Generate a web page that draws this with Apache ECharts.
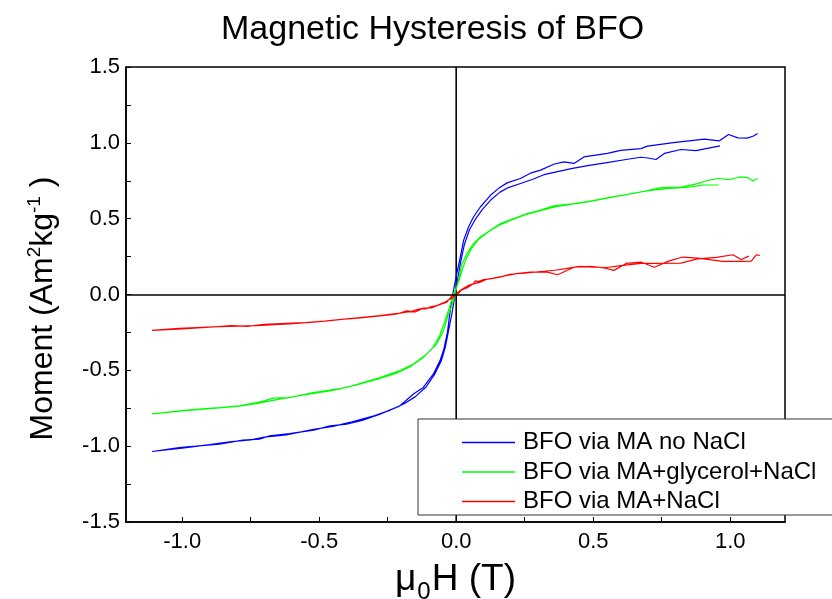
<!DOCTYPE html>
<html>
<head>
<meta charset="utf-8">
<script src="https://cdn.jsdelivr.net/npm/echarts@6/dist/echarts.min.js"></script>
<style>
  html, body { margin: 0; padding: 0; background: #fff; }
  #chart { width: 832px; height: 599px; }
</style>
</head>
<body>
<div id="chart"></div>
<script>
// Field sweeps [mu0H (T), moment (Am^2/kg)]; each loop is swept high -> low, then back up.
const noNaClDown = [[1.10,1.062],[1.085,1.045],[1.062,1.031],[1.028,1.033],[0.994,1.055],[0.961,1.013],[0.906,1.024],[0.80,1.003],[0.698,0.978],[0.674,0.962],[0.60,0.95],[0.552,0.93],[0.466,0.907],[0.43,0.864],[0.393,0.874],[0.356,0.859],[0.308,0.82],[0.271,0.80],[0.234,0.765],[0.186,0.736],[0.155,0.70],[0.125,0.654],[0.088,0.577],[0.063,0.511],[0.045,0.445],[0.027,0.357],[0.015,0.247],[0.002,0.137],[-0.01,0.026],[-0.02,-0.08],[-0.032,-0.25],[-0.045,-0.36],[-0.059,-0.436],[-0.083,-0.524],[-0.12,-0.613],[-0.156,-0.656],[-0.205,-0.734],[-0.278,-0.789],[-0.34,-0.828],[-0.40,-0.855],[-0.46,-0.866],[-0.52,-0.894],[-0.608,-0.917],[-0.681,-0.932],[-0.718,-0.954],[-0.779,-0.96],[-0.864,-0.987],[-0.95,-1.0],[-1.011,-1.009],[-1.11,-1.035]];
const noNaClUp = [[-1.11,-1.035],[-1.0,-1.013],[-0.9,-0.99],[-0.82,-0.97],[-0.75,-0.958],[-0.70,-0.94],[-0.62,-0.925],[-0.52,-0.889],[-0.45,-0.87],[-0.38,-0.84],[-0.30,-0.80],[-0.24,-0.762],[-0.19,-0.72],[-0.15,-0.675],[-0.11,-0.61],[-0.08,-0.53],[-0.055,-0.44],[-0.04,-0.35],[-0.028,-0.24],[-0.015,-0.12],[-0.005,-0.01],[0.005,0.1],[0.017,0.22],[0.03,0.33],[0.048,0.425],[0.068,0.49],[0.095,0.56],[0.13,0.63],[0.16,0.675],[0.19,0.705],[0.24,0.735],[0.28,0.76],[0.32,0.79],[0.37,0.81],[0.42,0.83],[0.48,0.85],[0.55,0.87],[0.62,0.89],[0.674,0.905],[0.70,0.90],[0.729,0.89],[0.76,0.93],[0.82,0.956],[0.875,0.949],[0.963,0.98]];

const glycerolDown = [[1.099,0.767],[1.083,0.749],[1.065,0.77],[1.034,0.775],[0.998,0.758],[0.955,0.765],[0.918,0.753],[0.881,0.731],[0.82,0.708],[0.747,0.705],[0.674,0.676],[0.576,0.645],[0.479,0.613],[0.43,0.60],[0.356,0.584],[0.308,0.556],[0.259,0.534],[0.21,0.50],[0.161,0.467],[0.125,0.423],[0.088,0.379],[0.063,0.335],[0.039,0.269],[0.021,0.203],[0.008,0.093],[-0.004,0.005],[-0.015,-0.07],[-0.028,-0.128],[-0.046,-0.238],[-0.071,-0.326],[-0.107,-0.392],[-0.156,-0.458],[-0.205,-0.502],[-0.278,-0.547],[-0.34,-0.58],[-0.40,-0.613],[-0.522,-0.646],[-0.608,-0.679],[-0.669,-0.683],[-0.706,-0.705],[-0.791,-0.734],[-0.864,-0.745],[-0.974,-0.76],[-1.11,-0.787]];
const glycerolUp = [[-1.11,-0.787],[-1.0,-0.768],[-0.9,-0.752],[-0.8,-0.738],[-0.72,-0.716],[-0.64,-0.688],[-0.55,-0.66],[-0.45,-0.632],[-0.36,-0.594],[-0.29,-0.56],[-0.22,-0.52],[-0.17,-0.478],[-0.12,-0.415],[-0.085,-0.35],[-0.06,-0.27],[-0.04,-0.17],[-0.022,-0.07],[-0.008,0.01],[0.006,0.07],[0.02,0.15],[0.035,0.23],[0.055,0.30],[0.08,0.36],[0.115,0.41],[0.155,0.455],[0.2,0.49],[0.25,0.525],[0.30,0.55],[0.36,0.578],[0.42,0.595],[0.48,0.61],[0.56,0.638],[0.64,0.665],[0.70,0.685],[0.78,0.70],[0.84,0.706],[0.906,0.722],[0.957,0.722]];

const naclDown = [[1.108,0.258],[1.095,0.262],[1.077,0.22],[1.04,0.218],[0.973,0.218],[0.881,0.24],[0.827,0.247],[0.775,0.22],[0.723,0.18],[0.674,0.214],[0.62,0.205],[0.576,0.159],[0.54,0.175],[0.49,0.185],[0.43,0.18],[0.37,0.13],[0.332,0.147],[0.271,0.147],[0.22,0.138],[0.186,0.126],[0.15,0.113],[0.125,0.104],[0.10,0.098],[0.08,0.085],[0.07,0.09],[0.063,0.071],[0.045,0.06],[0.038,0.066],[0.03,0.045],[0.015,0.026],[0.0,0.005],[-0.015,-0.01],[-0.025,-0.03],[-0.034,-0.051],[-0.05,-0.06],[-0.071,-0.073],[-0.09,-0.08],[-0.11,-0.095],[-0.132,-0.095],[-0.16,-0.11],[-0.205,-0.123],[-0.278,-0.139],[-0.34,-0.15],[-0.40,-0.161],[-0.462,-0.172],[-0.522,-0.183],[-0.608,-0.194],[-0.68,-0.20],[-0.73,-0.205],[-0.864,-0.212],[-1.011,-0.223],[-1.11,-0.236]];
const naclUp = [[-1.11,-0.236],[-1.0,-0.226],[-0.9,-0.216],[-0.82,-0.205],[-0.76,-0.21],[-0.70,-0.196],[-0.62,-0.19],[-0.55,-0.186],[-0.48,-0.175],[-0.42,-0.165],[-0.35,-0.155],[-0.27,-0.14],[-0.22,-0.13],[-0.18,-0.108],[-0.15,-0.115],[-0.12,-0.09],[-0.09,-0.088],[-0.06,-0.065],[-0.04,-0.05],[-0.02,-0.028],[0.0,-0.005],[0.02,0.03],[0.04,0.045],[0.06,0.068],[0.085,0.08],[0.11,0.1],[0.14,0.108],[0.17,0.12],[0.2,0.135],[0.25,0.14],[0.30,0.15],[0.36,0.16],[0.40,0.17],[0.45,0.185],[0.50,0.18],[0.55,0.178],[0.60,0.19],[0.674,0.205],[0.72,0.205],[0.82,0.207],[0.88,0.235],[0.95,0.245],[1.01,0.262],[1.04,0.231],[1.068,0.253]];

const seriesNames = ['BFO via MA no NaCl', 'BFO via MA+glycerol+NaCl', 'BFO via MA+NaCl'];
const seriesColors = ['#0000ff', '#00ff00', '#ff0000'];
const loops = [noNaClDown.concat(noNaClUp), glycerolDown.concat(glycerolUp), naclDown.concat(naclUp)];

const xLabelValues = [-1.0, -0.5, 0.0, 0.5, 1.0];
const xTickValues = [-1.0, -0.75, -0.5, -0.25, 0.0, 0.25, 0.5, 0.75, 1.0];
const yTickValues = [-1.5, -1.25, -1.0, -0.75, -0.5, -0.25, 0.0, 0.25, 0.5, 0.75, 1.0, 1.25, 1.5];

const FONT = "'Liberation Sans', Arial, sans-serif";
const Y_MIN = -1.5, Y_MAX = 1.5;
// Moment range hidden behind the legend box on the H = 0 line
const legendSpanM = [-0.822, -1.44];

const chart = echarts.init(document.getElementById('chart'), null, { renderer: 'canvas' });

const series = loops.map((d, i) => ({
  name: seriesNames[i],
  type: 'line',
  data: d,
  symbol: 'none',
  showSymbol: false,
  smooth: false,
  animation: false,
  lineStyle: { color: seriesColors[i], width: 1.2 },
  itemStyle: { color: seriesColors[i] },
  z: 3
}));

// Horizontal zero line (M = 0)
series[0].markLine = {
  silent: true,
  symbol: ['none', 'none'],
  animation: false,
  label: { show: false },
  lineStyle: { color: '#000', width: 1.6, type: 'solid' },
  data: [{ yAxis: 0 }]
};

// Vertical zero line (H = 0), interrupted behind the legend box
const zeroAxisStyle = {
  type: 'line',
  symbol: 'none',
  silent: true,
  animation: false,
  z: 2,
  lineStyle: { color: '#000', width: 1.6 },
  tooltip: { show: false }
};
series.push(Object.assign({ name: 'zero-upper', data: [[0, Y_MAX], [0, legendSpanM[0]]] }, zeroAxisStyle));
series.push(Object.assign({ name: 'zero-lower', data: [[0, legendSpanM[1]], [0, Y_MIN]] }, zeroAxisStyle));

chart.setOption({
  backgroundColor: '#fff',
  animation: false,
  title: {
    text: 'Magnetic Hysteresis of BFO',
    left: 216,
    top: 8,
    textStyle: { fontFamily: FONT, fontSize: 34, fontWeight: 'normal', color: '#000' }
  },
  legend: {
    orient: 'vertical',
    left: 418,
    top: 419,
    z: 20,
    itemWidth: 53,
    itemHeight: 1.5,
    itemGap: 5.5,
    padding: [11.5, 40, 1.5, 44],
    borderColor: '#333',
    borderWidth: 1,
    backgroundColor: '#fff',
    selectedMode: false,
    icon: 'rect',
    data: seriesNames.map((n, i) => ({
      name: n,
      itemStyle: { color: seriesColors[i] }
    })),
    textStyle: { fontFamily: FONT, fontSize: 24, color: '#000', padding: [0, 0, 0, 3] }
  },
  grid: {
    left: 126, right: 47, top: 67, bottom: 77,
    outerBoundsMode: 'none',
    containLabel: false,
    show: true, borderColor: '#000', borderWidth: 1.5, backgroundColor: 'transparent'
  },
  xAxis: {
    type: 'value',
    min: -1.205,
    max: 1.2,
    name: '{a|μ}{s|0}{a|H (T)}',
    nameLocation: 'middle',
    nameGap: 37,
    nameTextStyle: {
      rich: {
        a: { fontFamily: FONT, fontSize: 37, color: '#000', lineHeight: 42, verticalAlign: 'middle' },
        s: { fontFamily: FONT, fontSize: 24, color: '#000', lineHeight: 42, verticalAlign: 'bottom', padding: [0, 1, -3, 1] }
      }
    },
    axisLine: { show: true, onZero: false, lineStyle: { color: '#000', width: 1.6 } },
    axisTick: { show: true, inside: true, length: 5, customValues: xTickValues, lineStyle: { color: '#000', width: 1 } },
    axisLabel: {
      customValues: xLabelValues,
      margin: 9,
      fontFamily: FONT, fontSize: 22, color: '#000',
      formatter: v => v.toFixed(1)
    },
    splitLine: { show: false }
  },
  yAxis: {
    type: 'value',
    min: Y_MIN,
    max: Y_MAX,
    interval: 0.5,
    name: '{a|Moment (Am}{p|2}{a|kg}{p|-1}{a| )}',
    nameLocation: 'middle',
    nameRotate: 90,
    nameGap: 64,
    nameTextStyle: {
      padding: [0, 28, 0, 0],
      rich: {
        a: { fontFamily: FONT, fontSize: 32, color: '#000', lineHeight: 38, verticalAlign: 'middle' },
        p: { fontFamily: FONT, fontSize: 19, color: '#000', lineHeight: 38, verticalAlign: 'top', padding: [1, 0, 0, 0] }
      }
    },
    axisLine: { show: true, onZero: false, lineStyle: { color: '#000', width: 1.6 } },
    axisTick: { show: true, inside: true, length: 5, customValues: yTickValues, lineStyle: { color: '#000', width: 1 } },
    axisLabel: {
      margin: 6,
      fontFamily: FONT, fontSize: 22, color: '#000',
      formatter: v => v.toFixed(1)
    },
    splitLine: { show: false }
  },
  series: series
});
</script>
</body>
</html>
